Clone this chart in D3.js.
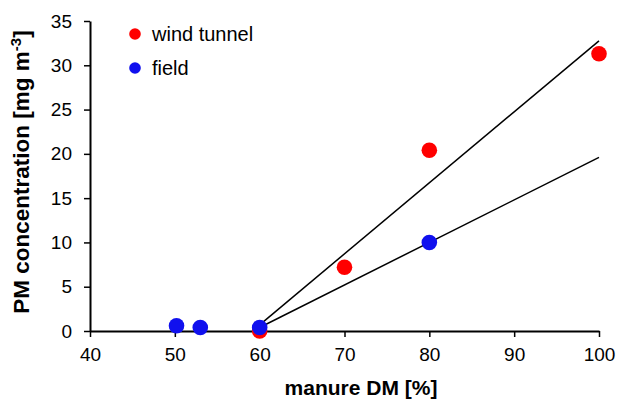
<!DOCTYPE html>
<html>
<head>
<meta charset="utf-8">
<script src="https://d3js.org/d3.v7.min.js"></script>
<style>
  body { margin: 0; background: #fff; }
  svg text { font-family: "Liberation Sans", Arial, sans-serif; }
</style>
</head>
<body>
<div id="chart"></div>
<script>
// data
var windDM = [60, 70, 80, 100];
var windPM = [0.0, 7.2, 20.4, 31.3];
var fieldDM = [50.2, 53, 60, 80];
var fieldPM = [0.6, 0.4, 0.4, 10.0];
var xTicks = [40, 50, 60, 70, 80, 90, 100];
var yTicks = [0, 5, 10, 15, 20, 25, 30, 35];
var seriesNames = ["wind tunnel", "field"];
var seriesColors = ["#ff0000", "#1010ee"];

var width = 619, height = 399;
var margin = { left: 90, right: 20, top: 21, bottom: 68 };

var svg = d3.select("#chart").append("svg")
  .attr("width", width).attr("height", height);

var x = d3.scaleLinear().domain([40, 100]).range([margin.left, width - margin.right]);
var y = d3.scaleLinear().domain([0, 35]).range([height - margin.bottom, margin.top]);

// axes
var xAxis = svg.append("g")
  .attr("transform", "translate(0," + y(0) + ")")
  .call(d3.axisBottom(x).tickValues(xTicks).tickSize(6).tickPadding(11).tickSizeOuter(0));
var yAxis = svg.append("g")
  .attr("transform", "translate(" + x(40) + ",0)")
  .call(d3.axisLeft(y).tickValues(yTicks).tickSize(6).tickPadding(12).tickSizeOuter(0));

[xAxis, yAxis].forEach(function (g) {
  g.select(".domain").attr("stroke", "#000").attr("stroke-width", 2);
  g.selectAll(".tick line").attr("stroke", "#000").attr("stroke-width", 1.5);
  g.selectAll(".tick text").attr("font-size", 19).attr("fill", "#000")
    .style("font-family", "'Liberation Sans', Arial, sans-serif");
});

// trend lines, fitted on points from 60 % DM up
function fit(xs, ys) {
  var px = [], py = [];
  xs.forEach(function (v, i) { if (v >= 60) { px.push(v); py.push(ys[i]); } });
  var mx = d3.mean(px), my = d3.mean(py);
  var sxy = d3.sum(px, function (v, i) { return (v - mx) * (py[i] - my); });
  var sxx = d3.sum(px, function (v) { return (v - mx) * (v - mx); });
  var b = sxy / sxx;
  return [[60, my + b * (60 - mx)], [100, my + b * (100 - mx)]];
}

var line = d3.line().x(function (d) { return x(d[0]); }).y(function (d) { return y(d[1]); });

[fit(windDM, windPM), fit(fieldDM, fieldPM)].forEach(function (seg) {
  svg.append("path").attr("d", line(seg))
    .attr("stroke", "#000").attr("stroke-width", 1.5).attr("fill", "none");
});

// points
var wind = windDM.map(function (v, i) { return [v, windPM[i]]; });
var field = fieldDM.map(function (v, i) { return [v, fieldPM[i]]; });

[wind, field].forEach(function (pts, s) {
  svg.append("g").selectAll("circle").data(pts).enter().append("circle")
    .attr("cx", function (d) { return x(d[0]); })
    .attr("cy", function (d) { return y(d[1]); })
    .attr("r", 7.8)
    .attr("fill", seriesColors[s]);
});

// legend
var legend = svg.append("g");
seriesNames.forEach(function (name, i) {
  var yy = 34 + i * 34;
  legend.append("circle").attr("cx", 135).attr("cy", yy).attr("r", 5.8).attr("fill", seriesColors[i]);
  legend.append("text").attr("x", 152).attr("y", yy + 7).attr("font-size", 20).text(name);
});

// axis titles
svg.append("text")
  .attr("x", 361).attr("y", 395)
  .attr("text-anchor", "middle").attr("font-size", 21).attr("font-weight", "bold")
  .text("manure DM [%]");

var yt = svg.append("text")
  .attr("transform", "translate(29,172) rotate(-90)")
  .attr("text-anchor", "middle").attr("font-size", 22.5).attr("font-weight", "bold");
yt.append("tspan").text("PM concentration [mg m");
yt.append("tspan").attr("dy", -8).attr("font-size", 15).text("-3");
yt.append("tspan").attr("dy", 8).text("]");
</script>
</body>
</html>
